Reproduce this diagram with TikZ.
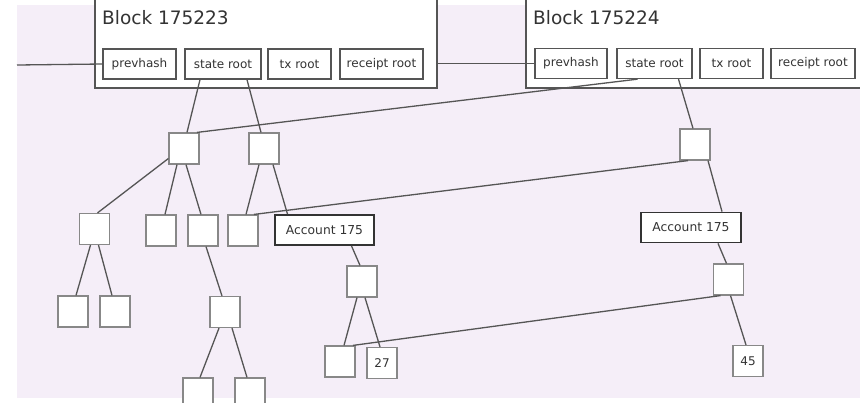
\documentclass[tikz,border=0pt]{standalone}
\usepackage{fontspec}
\setmainfont{DejaVu Sans}
\definecolor{bgl}{HTML}{F5EEF8}
\definecolor{ln}{HTML}{555555}
\definecolor{sq}{HTML}{888888}
\definecolor{tx}{HTML}{333333}
\begin{document}
\begin{tikzpicture}[x=1pt,y=-1pt,
  sqbox/.style={draw=sq,line width=1.2pt,fill=white,minimum width=30pt,minimum height=31pt,inner sep=0pt,text=tx,font=\fontsize{12}{14}\selectfont},
  fieldbox/.style={draw=ln,line width=1.3pt,fill=white,minimum height=30pt,inner sep=0pt,text=tx,font=\fontsize{12}{14}\selectfont},
  accbox/.style={draw=tx,line width=1.8pt,fill=white,minimum height=30pt,minimum width=99pt,inner sep=0pt,text=tx,font=\fontsize{12.3}{14}\selectfont},
  blockbox/.style={draw=ln,line width=1.8pt,fill=white,inner sep=0pt},
  title/.style={anchor=west,inner sep=0pt,text=tx,font=\fontsize{18.5}{20}\selectfont},
  conn/.style={draw=ln,line width=1.3pt}]
\useasboundingbox (0,0) rectangle (860,402);
\clip (0,0) rectangle (860,402);
\fill[bgl] (17,5) rectangle (860,398);
% blocks
\node[blockbox,minimum width=342pt,minimum height=100pt] (blk1) at (266,38) {};
\node[blockbox,minimum width=360pt,minimum height=100pt] (blk2) at (706,38) {};
\node[title] (t1) at (102,18) {Block 175223};
\node[title] (t2) at (533,18) {Block 175224};
\node[fieldbox,minimum width=73pt] (ph1) at (139.5,64) {prevhash};
\node[fieldbox,minimum width=76pt] (sr1) at (223,64) {state root};
\node[fieldbox,minimum width=63pt] (tr1) at (299.5,64) {tx root};
\node[fieldbox,minimum width=83pt] (rr1) at (381.5,64) {receipt root};
\node[fieldbox,minimum width=72pt] (ph2) at (571,63.5) {prevhash};
\node[fieldbox,minimum width=75pt] (sr2) at (654.5,63.5) {state root};
\node[fieldbox,minimum width=63pt] (tr2) at (731.5,63.5) {tx root};
\node[fieldbox,minimum width=84pt] (rr2) at (813,63.5) {receipt root};
\coordinate (lin) at (17,65);
% tree nodes
\node[sqbox] (A) at (184,148.5) {};
\node[sqbox] (B) at (264,148.5) {};
\node[sqbox] (C) at (94.5,229) {};
\node[sqbox] (D) at (161,230.5) {};
\node[sqbox] (E) at (203,230.5) {};
\node[sqbox] (F) at (243,230.5) {};
\node[accbox] (acc1) at (324.5,230) {Account 175};
\node[sqbox] (G) at (695,144.5) {};
\node[accbox,minimum width=100pt] (acc2) at (691,227.5) {Account 175};
\node[sqbox] (H) at (728.5,279.5) {};
\node[sqbox] (v45) at (748,361) {45};
\node[sqbox] (J) at (362,281.5) {};
\node[sqbox] (I) at (340,361.5) {};
\node[sqbox] (v27) at (382,363) {27};
\node[sqbox] (K) at (225,312) {};
\node[sqbox] (N) at (73,311.5) {};
\node[sqbox] (O) at (115,311.5) {};
\node[sqbox] (L) at (198,393.5) {};
\node[sqbox] (M) at (250,393.5) {};
% connectors
\path[conn] (lin) -- (ph1.west);
\path[conn] (blk1.east |- ph2.west) -- (ph2.west);
\path[conn] ([xshift=-23pt]sr1.south) -- ([xshift=3pt]A.north);
\path[conn] ([xshift=24pt]sr1.south) -- ([xshift=-3pt]B.north);
\path[conn] ([xshift=13pt]A.north) -- ([xshift=-17pt]sr2.south);
\path[conn] ([yshift=-10pt]A.west) -- ([xshift=3pt]C.north);
\path[conn] ([xshift=-7pt]A.south) -- ([xshift=4pt]D.north);
\path[conn] ([xshift=2pt]A.south) -- ([xshift=-2pt]E.north);
\path[conn] ([xshift=-5pt]B.south) -- ([xshift=3pt]F.north);
\path[conn] ([xshift=9pt]B.south) -- ([xshift=-37pt]acc1.north);
\path[conn] ([xshift=11pt]F.north) -- ([xshift=-7pt]G.south);
\path[conn] ([xshift=24pt]sr2.south) -- ([xshift=-2pt]G.north);
\path[conn] ([xshift=13pt]G.south) -- ([xshift=31pt]acc2.north);
\path[conn] ([xshift=27pt]acc2.south) -- ([xshift=-2pt]H.north);
\path[conn] ([xshift=2pt]H.south) -- ([xshift=-2pt]v45.north);
\path[conn] ([xshift=-8pt]H.south) -- ([xshift=13pt]I.north);
\path[conn] ([xshift=27pt]acc1.south) -- ([xshift=-2pt]J.north);
\path[conn] ([xshift=-5pt]J.south) -- ([xshift=4pt]I.north);
\path[conn] ([xshift=3pt]J.south) -- ([xshift=-2pt]v27.north);
\path[conn] ([xshift=-4pt]C.south) -- ([xshift=3pt]N.north);
\path[conn] ([xshift=4pt]C.south) -- ([xshift=-3pt]O.north);
\path[conn] ([xshift=3pt]E.south) -- ([xshift=-3pt]K.north);
\path[conn] ([xshift=-6pt]K.south) -- ([xshift=2pt]L.north);
\path[conn] ([xshift=7pt]K.south) -- ([xshift=-3pt]M.north);
\end{tikzpicture}
\end{document}
